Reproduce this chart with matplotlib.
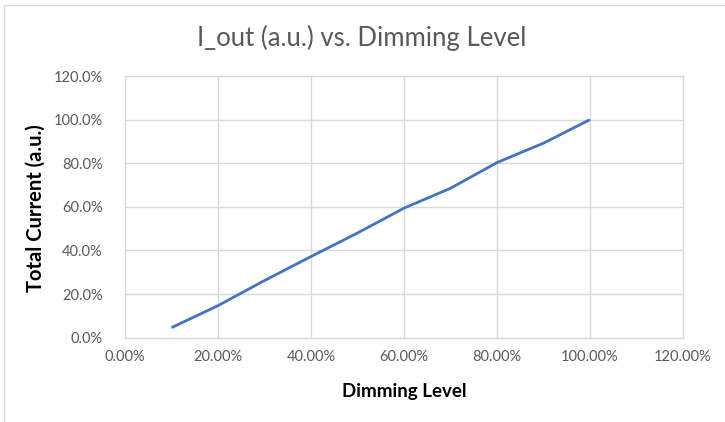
import numpy as np
import matplotlib.pyplot as plt
from matplotlib import ticker
from matplotlib.patches import Rectangle

plt.rcParams["font.family"] = ["Lato", "DejaVu Sans"]

dimming = [0.10, 0.20, 0.30, 0.40, 0.50, 0.60, 0.70, 0.80, 0.90, 1.00]
current = [0.046, 0.147, 0.262, 0.372, 0.480, 0.594, 0.685, 0.803, 0.892, 1.000]

grey = "#595959"
grid_c = "#d9d9d9"

fig = plt.figure(figsize=(7.25, 4.22), dpi=100)
ax = fig.add_axes([0.1724, 0.1998, 0.9420 - 0.1724, 0.8199 - 0.1998])

# chart area border (Excel-like)
fig.patches.append(Rectangle((4 / 725, -0.1), 1.2, 1.1 - 5 / 422,
                             transform=fig.transFigure, fill=False,
                             edgecolor="#d9d9d9", linewidth=1.0))

ax.plot(dimming, current, color="#4472C4", linewidth=2.0, solid_capstyle="butt")

ax.set_xlim(0, 1.2)
ax.set_ylim(0, 1.2)
ax.xaxis.set_major_locator(ticker.MultipleLocator(0.2))
ax.yaxis.set_major_locator(ticker.MultipleLocator(0.2))
ax.xaxis.set_major_formatter(ticker.PercentFormatter(1.0, decimals=2))
ax.yaxis.set_major_formatter(ticker.PercentFormatter(1.0, decimals=1))

ax.grid(which="major", color=grid_c, linewidth=1.0)
ax.set_axisbelow(True)
for s in ax.spines.values():
    s.set_visible(False)
for gl in ax.get_xgridlines() + ax.get_ygridlines():
    gl.set_clip_on(False)
ax.spines["bottom"].set_visible(True)
ax.spines["bottom"].set_color("#d9d9d9")

ax.tick_params(length=0, labelsize=10.5, labelcolor=grey)
ax.tick_params(axis="x", pad=9)
ax.tick_params(axis="y", pad=16)

fig.text(361.5 / 725, 1 - 38 / 422, "I_out (a.u.) vs. Dimming Level",
         fontsize=18.5, color=grey, ha="center", va="center")
ax.set_xlabel("Dimming Level", fontsize=13.5, fontweight="bold",
              ha="center", va="center")
ax.xaxis.set_label_coords(0.5, -0.207)
ax.set_ylabel("Total Current (a.u.)", fontsize=14.5, fontweight="bold",
              ha="center", va="center")
ax.yaxis.set_label_coords(-0.1595, 0.496)

fig.savefig("out.png", dpi=100)
plt.close()
